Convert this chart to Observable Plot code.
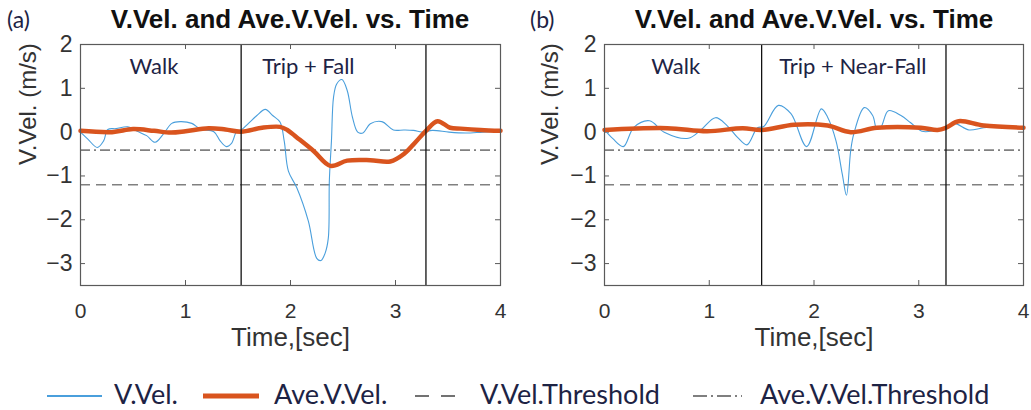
<!DOCTYPE html>
<html>
<head>
<meta charset="utf-8">
<script src="https://cdn.jsdelivr.net/npm/d3@7"></script>
<script src="https://cdn.jsdelivr.net/npm/@observablehq/plot@0.6"></script>
<style>
  html, body { margin: 0; padding: 0; background: #fff; }
  #fig { position: relative; width: 1031px; height: 410px; overflow: hidden; background: #fff; }
  .panel { position: absolute; top: 0; }
  .title { position: absolute; top: 4px; font: bold 26px "Liberation Sans", Arial, sans-serif; color: #111; white-space: nowrap; transform: translateX(-50%); }
  .tag { position: absolute; top: 5px; font: 23px Lato, "Open Sans", sans-serif; color: #1d2344; }
  .legend { position: absolute; top: 378px; left: 0; width: 1031px; height: 32px; font: 27px Lato, "Open Sans", sans-serif; color: #1d2344; line-height: 1.2; }
  .legend span, .legend svg { position: absolute; top: 0; }
</style>
</head>
<body>
<div id="fig">
  <div class="panel" id="pa" style="left:0"></div>
  <div class="panel" id="pb" style="left:515px"></div>
  <div class="tag" style="left:7px">(a)</div>
  <div class="tag" style="left:530px">(b)</div>
  <div class="title" id="ta" style="left:290px"></div>
  <div class="title" id="tb" style="left:814px"></div>
  <div class="legend" id="legend"></div>
</div>
<script>
// Axis ticks and labels
const xTicks = [0, 1, 2, 3, 4];
const yTicks = [2, 1, 0, -1, -2, -3];
const titleText = "V.Vel. and Ave.V.Vel. vs. Time";
const xLabel = "Time,[sec]";
const yLabel = "V.Vel. (m/s)";

// Detection thresholds (m/s)
const velThreshold = -1.2;
const aveThreshold = -0.41;

// (a) Trip + Fall trial
const phaseA = ["Walk", "Trip + Fall"];
const phaseAt = [0.70, 2.17];
const boundsA = [1.53, 3.29];
const velAt = [0, 0.07, 0.16, 0.22, 0.26, 0.34, 0.45, 0.54, 0.63, 0.71, 0.79, 0.87, 0.95, 1.06, 1.14, 1.27, 1.33, 1.39, 1.44, 1.49, 1.53,
  1.60, 1.68, 1.76, 1.83, 1.90, 1.94, 1.98, 2.06, 2.17, 2.25, 2.29, 2.33, 2.36, 2.37, 2.39, 2.41, 2.44, 2.49, 2.54, 2.59, 2.64, 2.69,
  2.76, 2.87, 2.98, 3.08, 3.17, 3.27, 3.35, 3.51, 3.67, 3.83, 4.0];
const velAv = [0.0, -0.16, -0.35, -0.2, 0.06, 0.08, 0.12, 0.02, -0.08, -0.23, -0.04, 0.2, 0.24, 0.2, 0.07, 0.01, -0.2, -0.33, -0.25, 0.03, 0.05,
  0.2, 0.38, 0.52, 0.38, 0.23, -0.2, -0.89, -1.27, -2.03, -2.88, -2.93, -2.76, -2.42, -1.11, -0.2, 0.8, 1.1, 1.2, 0.95, 0.34, 0.0, -0.02,
  0.19, 0.24, 0.05, 0.05, 0.04, 0.0, 0.04, 0.0, -0.02, 0.0, 0.02];
const aveAt = [0, 0.3, 0.5, 0.7, 0.86, 1.0, 1.22, 1.38, 1.53, 1.73, 1.90, 1.97, 2.06, 2.22, 2.38, 2.54, 2.76, 2.95, 3.08, 3.19, 3.29, 3.40, 3.52, 3.62, 3.81, 4.0];
const aveAv = [0.03, 0.0, 0.07, 0.03, -0.01, 0.02, 0.09, 0.06, 0.01, 0.1, 0.12, 0.05, -0.12, -0.43, -0.77, -0.65, -0.64, -0.67, -0.5, -0.23, 0.03, 0.25, 0.1, 0.08, 0.05, 0.03];

// (b) Trip + Near-Fall trial
const phaseB = ["Walk", "Trip + Near-Fall"];
const phaseBt = [0.68, 2.37];
const boundsB = [1.50, 3.26];
const velBt = [0, 0.08, 0.18, 0.28, 0.43, 0.57, 0.80, 0.92, 1.06, 1.17, 1.27, 1.36, 1.46, 1.52, 1.66, 1.78, 1.93, 2.07, 2.13, 2.21, 2.27,
  2.31, 2.35, 2.38, 2.48, 2.56, 2.60, 2.64, 2.71, 2.83, 2.92, 3.03, 3.14, 3.26, 3.34, 3.48, 3.62, 3.81, 4.0];
const velBv = [0.05, -0.15, -0.33, 0.11, 0.26, 0.0, -0.14, 0.05, 0.33, 0.15, -0.12, -0.29, 0.1, 0.13, 0.61, 0.42, -0.33, 0.53, 0.34, -0.2, -0.96,
  -1.44, -0.43, -0.04, 0.56, 0.38, 0.07, 0.12, 0.49, 0.38, 0.22, 0.02, 0.03, 0.12, 0.2, 0.05, 0.1, 0.11, 0.1];
const aveBt = [0, 0.6, 0.98, 1.32, 1.50, 1.81, 2.13, 2.35, 2.60, 3.02, 3.18, 3.26, 3.38, 3.62, 4.0];
const aveBv = [0.05, 0.09, 0.02, 0.09, 0.05, 0.17, 0.15, 0.0, 0.1, 0.1, 0.05, 0.1, 0.25, 0.15, 0.1];

const blue = "#4a9fdc";
const orange = "#d9541e";
const gray = "#808080";
const frameColor = "#5a5a5a";
const font = "'Liberation Sans', Arial, sans-serif";

const H = 360, MT = 44, MB = 75;

function panel({width, ml, mr, yLabelX, velT, velV, aveT, aveV, bounds, phases, phaseT}) {
  const pw = width - ml - mr, ph = H - MT - MB;
  const vel = velT.map((t, i) => ({t, v: velV[i]}));
  const ave = aveT.map((t, i) => ({t, v: aveV[i]}));
  const labels = phases.map((name, i) => ({name, t: phaseT[i], v: 1.48}));
  return Plot.plot({
    width, height: H,
    marginLeft: ml, marginRight: mr, marginTop: MT, marginBottom: MB,
    style: {fontFamily: font, color: "#333", background: "transparent"},
    x: {domain: [0, 4]},
    y: {domain: [-3.5, 2]},
    marks: [
      Plot.axisY(yTicks, {tickSize: 0, tickPadding: 8, fontSize: 23, label: null}),
      Plot.axisX(xTicks, {tickSize: 0, tickPadding: 18, fontSize: 21, label: null}),
      // axis titles
      Plot.text([yLabel], {frameAnchor: "left", rotate: -90, dx: yLabelX - ml, fontSize: 24, fill: "#333"}),
      Plot.text([xLabel], {frameAnchor: "bottom", dy: 60, fontSize: 26, fill: "#333"}),
      // inward tick marks on all four sides
      Plot.tickY(yTicks, {y: d => d, insetRight: pw - 5, stroke: frameColor}),
      Plot.tickY(yTicks, {y: d => d, insetLeft: pw - 5, stroke: frameColor}),
      Plot.tickX(xTicks, {x: d => d, insetTop: ph - 5, stroke: frameColor}),
      Plot.tickX(xTicks, {x: d => d, insetBottom: ph - 5, stroke: frameColor}),
      Plot.ruleY([velThreshold], {stroke: gray, strokeWidth: 1.6, strokeDasharray: "10,6"}),
      Plot.ruleY([aveThreshold], {stroke: gray, strokeWidth: 1.6, strokeDasharray: "10,4,2,4"}),
      Plot.line(vel, {x: "t", y: "v", stroke: blue, strokeWidth: 1.1, curve: "catmull-rom"}),
      Plot.line(ave, {x: "t", y: "v", stroke: orange, strokeWidth: 4.5, curve: "catmull-rom"}),
      Plot.ruleX(bounds, {stroke: "#111", strokeWidth: 1.3}),
      Plot.text(labels, {x: "t", y: "v", text: "name", fontSize: 22, fontFamily: "Lato, 'Open Sans', sans-serif", fill: "#1d2344"}),
      Plot.frame({stroke: frameColor, strokeWidth: 1.2})
    ]
  });
}

document.getElementById("pa").append(panel({
  width: 515, ml: 80, mr: 15, yLabelX: 28,
  velT: velAt, velV: velAv, aveT: aveAt, aveV: aveAv,
  bounds: boundsA, phases: phaseA, phaseT: phaseAt
}));
document.getElementById("pb").append(panel({
  width: 516, ml: 89, mr: 8, yLabelX: 35,
  velT: velBt, velV: velBv, aveT: aveBt, aveV: aveBv,
  bounds: boundsB, phases: phaseB, phaseT: phaseBt
}));
document.getElementById("ta").textContent = titleText;
document.getElementById("tb").textContent = titleText;

// Legend
const legendItems = [
  {label: "V.Vel.", stroke: blue, width: 2, dash: null, x0: 47, x1: 102, tx: 114},
  {label: "Ave.V.Vel.", stroke: orange, width: 5, dash: null, x0: 203, x1: 259, tx: 274},
  {label: "V.Vel.Threshold", stroke: "#444", width: 1.6, dash: "14,12", x0: 415, x1: 458, tx: 480},
  {label: "Ave.V.Vel.Threshold", stroke: "#555", width: 1.6, dash: "14,4,2,4", x0: 693, x1: 742, tx: 760}
];
const lg = document.getElementById("legend");
for (const it of legendItems) {
  const svg = d3.create("svg").attr("width", it.x1 - it.x0).attr("height", 32)
    .style("left", it.x0 + "px");
  svg.append("line").attr("x1", 0).attr("x2", it.x1 - it.x0).attr("y1", 18).attr("y2", 18)
    .attr("stroke", it.stroke).attr("stroke-width", it.width)
    .attr("stroke-dasharray", it.dash);
  lg.append(svg.node());
  const s = document.createElement("span");
  s.textContent = it.label;
  s.style.left = it.tx + "px";
  lg.append(s);
}
</script>
</body>
</html>
